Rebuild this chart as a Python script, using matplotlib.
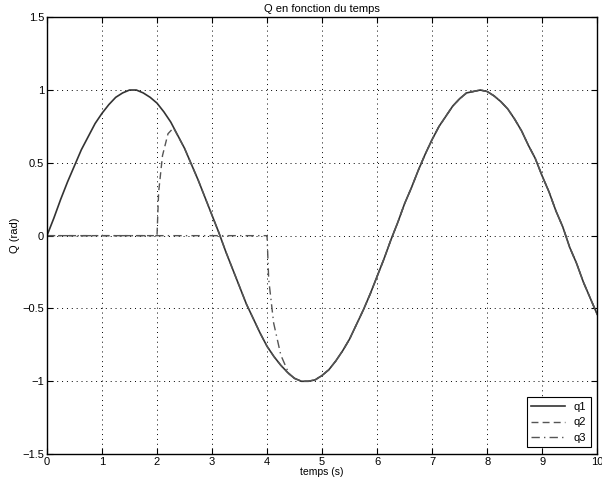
import matplotlib
matplotlib.use('Agg')
import matplotlib.pyplot as plt

# q1, every 0.125 s
t1 = [i * 0.125 for i in range(81)]
q1 = [0.00, 0.12, 0.25, 0.37, 0.48, 0.59, 0.68, 0.77, 0.84, 0.90, 0.95, 0.98, 1.00, 1.00, 0.98, 0.95,
      0.91, 0.85, 0.78, 0.69, 0.60, 0.49, 0.38, 0.26, 0.14, 0.02, -0.11, -0.23, -0.35, -0.47, -0.57, -0.67,
      -0.76, -0.83, -0.89, -0.94, -0.98, -1.00, -1.00, -0.99, -0.96, -0.92, -0.86, -0.79, -0.71, -0.61, -0.51, -0.40,
      -0.28, -0.16, -0.03, 0.09, 0.22, 0.33, 0.45, 0.56, 0.66, 0.75, 0.82, 0.89, 0.94, 0.98, 0.99, 1.00,
      0.99, 0.96, 0.92, 0.87, 0.80, 0.72, 0.62, 0.53, 0.41, 0.30, 0.17, 0.06, -0.08, -0.19, -0.32, -0.43,
      -0.54]

# q2 : zero until 2 s, then joins q1
t2 = [0.0, 2.0, 2.03, 2.1, 2.2, 2.3] + t1[20:]
q2 = [0.0, 0.0, 0.30, 0.55, 0.70, 0.74] + q1[20:]

# q3 : zero until 4 s, then joins q1
t3 = [0.0, 4.0, 4.03, 4.12, 4.25, 4.4] + t1[36:]
q3 = [0.0, 0.0, -0.30, -0.60, -0.82, -0.95] + q1[36:]

plt.rcParams['font.family'] = ['Liberation Sans', 'DejaVu Sans']
plt.rcParams['font.size'] = 8

fig = plt.figure(figsize=(6.02, 4.78), dpi=100)
ax = fig.add_axes([0.078, 0.05, 0.914, 0.914])

ax.plot(t1, q1, color='#333333', linestyle='-', linewidth=1.2, label='q1')
ax.plot(t2, q2, color='#555555', linestyle=(0, (5, 3)), linewidth=1.0, label='q2')
ax.plot(t3, q3, color='#555555', linestyle=(0, (6, 3, 1, 3)), linewidth=1.0, label='q3')

ax.set_xlim(0, 10)
ax.set_ylim(-1.5, 1.5)
ax.set_xticks(range(0, 11))
ax.set_yticks([-1.5, -1, -0.5, 0, 0.5, 1, 1.5])
ax.set_yticklabels(['\u22121.5', '\u22121', '\u22120.5', '0', '0.5', '1', '1.5'])
ax.tick_params(direction='in', length=4, top=True, right=True, width=0.8, pad=2)
ax.grid(True, linestyle=(0, (1, 4)), color='black', linewidth=0.7)
for s in ax.spines.values():
    s.set_linewidth(1.0)

ax.set_title('Q en fonction du temps', fontsize=8, pad=4)
ax.set_xlabel('temps (s)', fontsize=7.5, labelpad=0)
ax.set_ylabel('Q (rad)', fontsize=8, labelpad=2)

leg = ax.legend(loc='lower right', fancybox=False, edgecolor='black', framealpha=1,
                handlelength=3, fontsize=8, borderaxespad=0.6)
leg.get_frame().set_linewidth(0.8)

fig.savefig('out.png', dpi=100)
